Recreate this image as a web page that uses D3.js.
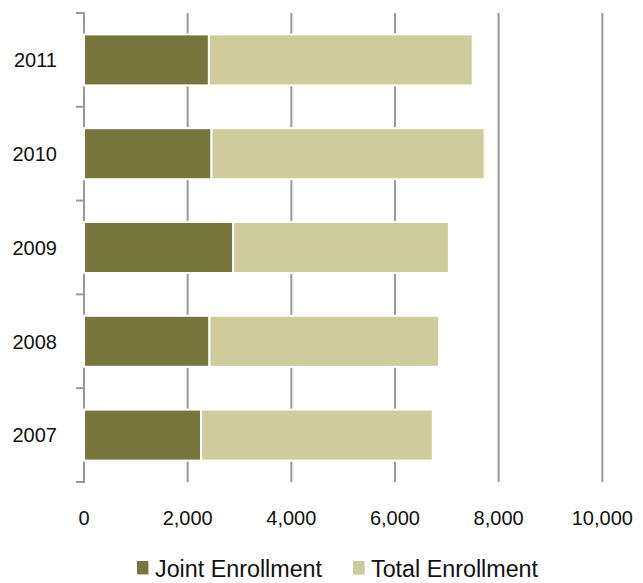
<!DOCTYPE html>
<html>
<head>
<meta charset="utf-8">
<script src="https://cdn.jsdelivr.net/npm/d3@7"></script>
<style>
  html, body { margin: 0; padding: 0; background: #fff; }
  svg text { font-family: "Liberation Sans", Arial, sans-serif; fill: #111; }
</style>
</head>
<body>
<svg id="chart" width="643" height="583"></svg>
<script>
// Data (top to bottom order in chart: 2011 ... 2007)
const years = ["2011", "2010", "2009", "2008", "2007"];
const jointEnrollment = [2410, 2460, 2880, 2420, 2260];
const totalEnrollment = [5090, 5270, 4160, 4430, 4470]; // stacked segment
const seriesNames = ["Joint Enrollment", "Total Enrollment"];
const seriesColors = ["#77773D", "#CDCC9A"];
const xTicks = [0, 2000, 4000, 6000, 8000, 10000];

const rows = years.map((y, i) => ({ year: y, joint: jointEnrollment[i], total: totalEnrollment[i] }));
const stack = d3.stack().keys(["joint", "total"])(rows);

const svg = d3.select("#chart");
const x = d3.scaleLinear().domain([0, 10000]).range([84, 602.3]);
const y = d3.scaleBand().domain(years).range([13, 482]).paddingInner(0.456).paddingOuter(0.228);

// gridlines
svg.append("g").selectAll("line").data(xTicks.slice(1)).join("line")
  .attr("x1", d => x(d)).attr("x2", d => x(d))
  .attr("y1", 13).attr("y2", 482)
  .attr("stroke", "#9a9a9a").attr("stroke-width", 2);

// left axis line
svg.append("line").attr("x1", x(0)).attr("x2", x(0)).attr("y1", 13).attr("y2", 483)
  .attr("stroke", "#9a9a9a").attr("stroke-width", 2);

// category boundary ticks
const step = y.step();
const bounds = d3.range(years.length + 1).map(i => 13 + i * (469 / years.length));
svg.append("g").selectAll("line").data(bounds).join("line")
  .attr("x1", x(0) - 8).attr("x2", x(0) + 1)
  .attr("y1", d => d).attr("y2", d => d)
  .attr("stroke", "#9a9a9a").attr("stroke-width", 2);

// bars
svg.append("g").selectAll("g").data(stack).join("g")
  .attr("fill", (d, i) => seriesColors[i])
  .selectAll("rect").data(d => d).join("rect")
  .attr("x", d => x(d[0]))
  .attr("width", d => x(d[1]) - x(d[0]))
  .attr("y", d => y(d.data.year))
  .attr("height", y.bandwidth())
  .attr("stroke", "#fff").attr("stroke-width", 2);

// y labels
svg.append("g").selectAll("text").data(years).join("text")
  .attr("x", 57).attr("y", d => y(d) + y.bandwidth() / 2 + 7.3)
  .attr("text-anchor", "end").attr("font-size", 20)
  .text(d => d);

// x labels
svg.append("g").selectAll("text").data(xTicks).join("text")
  .attr("x", d => x(d)).attr("y", 525)
  .attr("text-anchor", "middle").attr("font-size", 20)
  .text(d => d3.format(",")(d));

// legend
const legendX = [137, 353];
const leg = svg.append("g").selectAll("g").data(seriesNames).join("g")
  .attr("transform", (d, i) => `translate(${legendX[i]},561)`);
leg.append("rect").attr("x", 1).attr("y", 1).attr("width", 11).attr("height", 13)
  .attr("fill", (d, i) => i === 0 ? "#c9c89a" : "#e2e1bf");
leg.append("rect").attr("x", 0).attr("y", 0).attr("width", 11).attr("height", 13)
  .attr("fill", (d, i) => seriesColors[i]);
leg.append("text").attr("x", 18).attr("y", 15.5).attr("font-size", 23.3)
  .text(d => d);
</script>
</body>
</html>
